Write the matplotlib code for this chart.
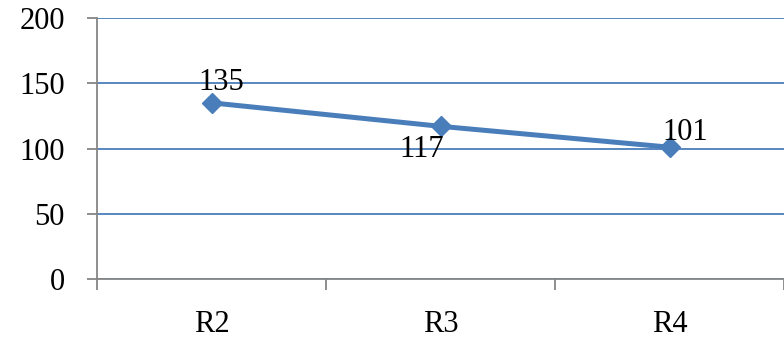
import matplotlib
matplotlib.use('Agg')
import matplotlib.pyplot as plt

categories = ['R2', 'R3', 'R4']
values = [135, 117, 101]
# label offsets in pixels (dx, dy)
label_offsets = [(10, 20), (-19, -23), (16, 15)]

plt.rcParams['font.family'] = ['Liberation Serif', 'DejaVu Serif']

fig = plt.figure(figsize=(7.84, 3.39), dpi=100)
ax = fig.add_axes([97/784, 60/339, 687/784, 261/339])

x = list(range(len(categories)))
ax.plot(x, values, color='#4a7ebb', lw=3.6, marker='D', markersize=10, zorder=3)

for xi, v, off in zip(x, values, label_offsets):
    ax.annotate(str(v), (xi, v), xytext=off, textcoords='offset pixels',
                ha='center', va='center', fontsize=22, color='black', zorder=4)

ax.set_xlim(-0.5, 2.5)
ax.set_ylim(0, 200)
ax.set_yticks([0, 50, 100, 150, 200])
ax.set_xticks(x)
ax.set_xticklabels(categories)
ax.set_xticks([-0.5, 0.5, 1.5, 2.5], minor=True)
ax.yaxis.grid(True, color='#4a7ebb', lw=1.3)
ax.set_axisbelow(True)

for s in ['top', 'right']:
    ax.spines[s].set_visible(False)
for s in ['left', 'bottom']:
    ax.spines[s].set_color('#868686')
    ax.spines[s].set_linewidth(1.3)

ax.tick_params(axis='y', length=7.2, width=1.3, color='#868686', labelsize=22, pad=16)
ax.tick_params(axis='x', which='major', length=0, labelsize=22, pad=22)
ax.tick_params(axis='x', which='minor', length=8, width=1.3, color='#868686')

fig.savefig('out.png', dpi=100)
